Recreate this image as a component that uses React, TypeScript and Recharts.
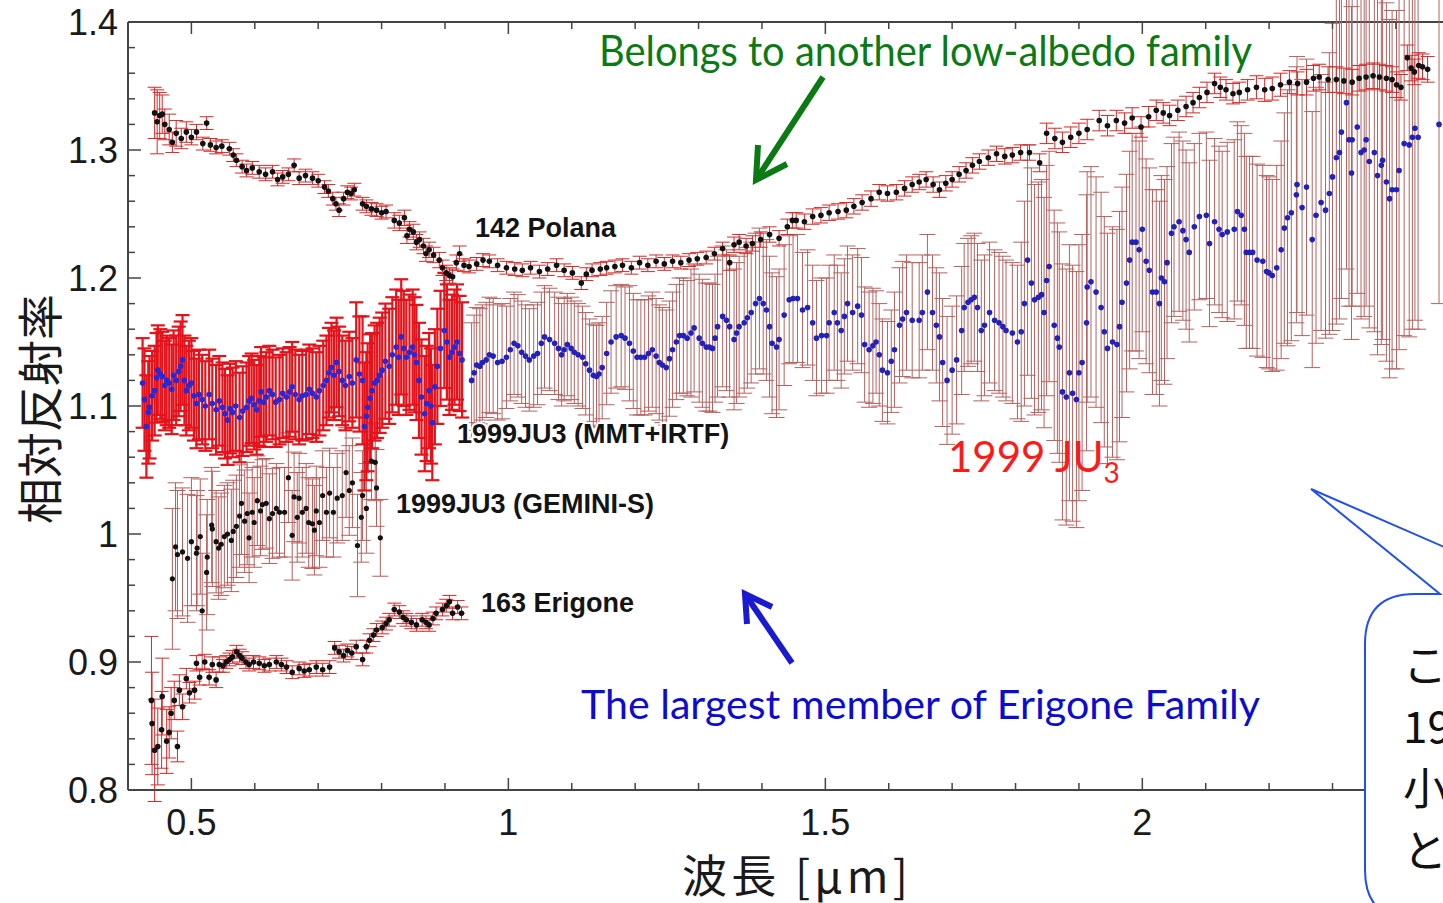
import React from "react";
import {
  ScatterChart,
  Scatter,
  XAxis,
  YAxis,
  ErrorBar,
  ReferenceLine,
} from "recharts";

// [wavelength (µm), relative reflectance, error]
const polana: number[][] = [
  [0.442, 1.329, 0.02], [0.446, 1.322, 0.025], [0.45, 1.327, 0.018], [0.454, 1.328, 0.015],
  [0.458, 1.32, 0.012], [0.465, 1.316, 0.012], [0.47, 1.306, 0.008], [0.476, 1.313, 0.01],
  [0.484, 1.309, 0.008], [0.492, 1.314, 0.008], [0.5, 1.31, 0.006], [0.508, 1.314, 0.006],
  [0.518, 1.305, 0.005], [0.524, 1.321, 0.005], [0.53, 1.304, 0.005], [0.539, 1.302, 0.005],
  [0.548, 1.303, 0.005], [0.56, 1.301, 0.005], [0.566, 1.296, 0.005], [0.571, 1.292, 0.005],
  [0.58, 1.287, 0.005], [0.587, 1.284, 0.005], [0.596, 1.286, 0.005], [0.607, 1.283, 0.005],
  [0.617, 1.281, 0.005], [0.628, 1.283, 0.005], [0.636, 1.277, 0.005], [0.644, 1.279, 0.005],
  [0.653, 1.281, 0.005], [0.662, 1.288, 0.005], [0.67, 1.278, 0.005], [0.68, 1.28, 0.005],
  [0.691, 1.278, 0.005], [0.7, 1.276, 0.005], [0.71, 1.271, 0.005], [0.716, 1.268, 0.005],
  [0.723, 1.262, 0.005], [0.728, 1.258, 0.005], [0.733, 1.253, 0.005], [0.74, 1.262, 0.005],
  [0.746, 1.267, 0.005], [0.752, 1.266, 0.005], [0.757, 1.269, 0.005], [0.77, 1.258, 0.005],
  [0.776, 1.256, 0.005], [0.784, 1.254, 0.005], [0.792, 1.253, 0.005], [0.8, 1.251, 0.005],
  [0.807, 1.252, 0.005], [0.82, 1.245, 0.006], [0.828, 1.243, 0.006], [0.836, 1.247, 0.006],
  [0.84, 1.233, 0.006], [0.844, 1.238, 0.006], [0.85, 1.236, 0.006], [0.855, 1.228, 0.006],
  [0.86, 1.23, 0.006], [0.866, 1.225, 0.006], [0.87, 1.219, 0.006], [0.875, 1.222, 0.006],
  [0.882, 1.218, 0.006], [0.891, 1.214, 0.006], [0.896, 1.208, 0.006], [0.902, 1.204, 0.006],
  [0.907, 1.202, 0.006], [0.912, 1.201, 0.006], [0.918, 1.212, 0.006], [0.923, 1.219, 0.006],
  [0.93, 1.21, 0.005], [0.938, 1.209, 0.005], [0.95, 1.211, 0.005], [0.96, 1.214, 0.005],
  [0.97, 1.213, 0.005], [0.983, 1.21, 0.005], [0.997, 1.208, 0.005], [1.01, 1.207, 0.005],
  [1.022, 1.206, 0.005], [1.035, 1.208, 0.005], [1.049, 1.205, 0.005], [1.062, 1.207, 0.005],
  [1.076, 1.21, 0.005], [1.088, 1.206, 0.005], [1.101, 1.204, 0.005], [1.115, 1.196, 0.005],
  [1.123, 1.203, 0.005], [1.132, 1.206, 0.005], [1.145, 1.207, 0.005], [1.155, 1.208, 0.005],
  [1.168, 1.209, 0.005], [1.18, 1.21, 0.005], [1.194, 1.208, 0.005], [1.207, 1.212, 0.005],
  [1.22, 1.21, 0.005], [1.233, 1.213, 0.005], [1.246, 1.211, 0.005], [1.259, 1.213, 0.005],
  [1.272, 1.212, 0.005], [1.285, 1.214, 0.005], [1.298, 1.215, 0.005], [1.312, 1.216, 0.005],
  [1.325, 1.219, 0.005], [1.338, 1.223, 0.005], [1.349, 1.212, 0.006], [1.356, 1.226, 0.006],
  [1.364, 1.228, 0.006], [1.375, 1.225, 0.006], [1.385, 1.227, 0.006], [1.398, 1.23, 0.006],
  [1.412, 1.234, 0.006], [1.427, 1.231, 0.006], [1.44, 1.24, 0.006], [1.448, 1.245, 0.006],
  [1.454, 1.245, 0.006], [1.467, 1.244, 0.006], [1.48, 1.248, 0.006], [1.493, 1.249, 0.006],
  [1.506, 1.251, 0.006], [1.52, 1.252, 0.006], [1.533, 1.253, 0.006], [1.545, 1.256, 0.006],
  [1.558, 1.259, 0.006], [1.572, 1.262, 0.006], [1.585, 1.267, 0.006], [1.598, 1.266, 0.006],
  [1.612, 1.267, 0.006], [1.625, 1.27, 0.006], [1.637, 1.273, 0.006], [1.648, 1.275, 0.006],
  [1.659, 1.277, 0.006], [1.67, 1.273, 0.006], [1.68, 1.269, 0.006], [1.69, 1.274, 0.006],
  [1.7, 1.277, 0.006], [1.711, 1.281, 0.006], [1.722, 1.284, 0.006], [1.732, 1.288, 0.006],
  [1.743, 1.291, 0.006], [1.757, 1.294, 0.006], [1.77, 1.297, 0.006], [1.783, 1.295, 0.006],
  [1.795, 1.296, 0.006], [1.808, 1.298, 0.006], [1.822, 1.298, 0.006], [1.838, 1.29, 0.007],
  [1.849, 1.313, 0.008], [1.862, 1.309, 0.008], [1.874, 1.306, 0.008], [1.887, 1.31, 0.008],
  [1.9, 1.313, 0.008], [1.913, 1.316, 0.008], [1.932, 1.323, 0.008], [1.945, 1.319, 0.008],
  [1.959, 1.323, 0.008], [1.972, 1.321, 0.008], [1.984, 1.325, 0.008], [1.998, 1.318, 0.008],
  [2.01, 1.326, 0.008], [2.022, 1.331, 0.008], [2.033, 1.329, 0.008], [2.043, 1.327, 0.008],
  [2.056, 1.331, 0.008], [2.069, 1.334, 0.008], [2.08, 1.337, 0.008], [2.09, 1.341, 0.008],
  [2.102, 1.345, 0.008], [2.114, 1.352, 0.008], [2.123, 1.349, 0.008], [2.132, 1.347, 0.008],
  [2.143, 1.344, 0.008], [2.153, 1.345, 0.008], [2.166, 1.347, 0.008], [2.18, 1.349, 0.009],
  [2.193, 1.347, 0.009], [2.205, 1.348, 0.009], [2.218, 1.351, 0.009], [2.232, 1.353, 0.009],
  [2.245, 1.352, 0.009], [2.259, 1.353, 0.01], [2.27, 1.356, 0.01], [2.279, 1.357, 0.01],
  [2.293, 1.355, 0.01], [2.306, 1.355, 0.01], [2.318, 1.354, 0.01], [2.331, 1.353, 0.01],
  [2.342, 1.356, 0.01], [2.353, 1.357, 0.01], [2.364, 1.358, 0.01], [2.374, 1.357, 0.01],
  [2.385, 1.356, 0.01], [2.394, 1.355, 0.01], [2.401, 1.351, 0.01], [2.408, 1.349, 0.01],
  [2.418, 1.372, 0.01], [2.424, 1.364, 0.01], [2.429, 1.361, 0.01], [2.436, 1.366, 0.01],
  [2.442, 1.365, 0.01], [2.45, 1.363, 0.01],
];

const ju3Mmt: number[][] = [
  [0.423, 1.118, 0.035], [0.426, 1.105, 0.04], [0.429, 1.084, 0.04], [0.432, 1.095, 0.04],
  [0.434, 1.099, 0.04], [0.438, 1.108, 0.035], [0.442, 1.112, 0.035], [0.445, 1.122, 0.035],
  [0.447, 1.128, 0.035], [0.451, 1.125, 0.035], [0.454, 1.123, 0.035], [0.458, 1.116, 0.035],
  [0.461, 1.12, 0.035], [0.465, 1.118, 0.035], [0.469, 1.113, 0.035], [0.472, 1.124, 0.035],
  [0.476, 1.12, 0.035], [0.48, 1.127, 0.035], [0.483, 1.131, 0.035], [0.486, 1.136, 0.035],
  [0.489, 1.12, 0.035], [0.492, 1.112, 0.035], [0.496, 1.116, 0.035], [0.5, 1.118, 0.035],
  [0.504, 1.108, 0.035], [0.508, 1.102, 0.035], [0.512, 1.109, 0.035], [0.517, 1.105, 0.035],
  [0.522, 1.1, 0.035], [0.528, 1.109, 0.035], [0.533, 1.102, 0.035], [0.539, 1.097, 0.035],
  [0.544, 1.104, 0.035], [0.549, 1.099, 0.035], [0.553, 1.094, 0.035], [0.557, 1.089, 0.035],
  [0.561, 1.098, 0.035], [0.565, 1.095, 0.035], [0.57, 1.1, 0.035], [0.576, 1.091, 0.035],
  [0.581, 1.096, 0.035], [0.587, 1.099, 0.035], [0.591, 1.104, 0.035], [0.595, 1.106, 0.035],
  [0.599, 1.101, 0.035], [0.603, 1.097, 0.035], [0.607, 1.104, 0.035], [0.61, 1.111, 0.035],
  [0.614, 1.103, 0.035], [0.618, 1.107, 0.035], [0.623, 1.112, 0.035], [0.628, 1.109, 0.035],
  [0.633, 1.103, 0.035], [0.639, 1.105, 0.035], [0.644, 1.11, 0.035], [0.65, 1.107, 0.035],
  [0.655, 1.111, 0.035], [0.659, 1.115, 0.035], [0.664, 1.109, 0.035], [0.67, 1.105, 0.035],
  [0.675, 1.108, 0.035], [0.681, 1.109, 0.035], [0.686, 1.113, 0.035], [0.691, 1.11, 0.035],
  [0.697, 1.107, 0.035], [0.702, 1.112, 0.035], [0.708, 1.116, 0.035], [0.713, 1.12, 0.035],
  [0.717, 1.126, 0.035], [0.721, 1.13, 0.035], [0.725, 1.124, 0.035], [0.729, 1.134, 0.035],
  [0.733, 1.127, 0.035], [0.738, 1.12, 0.035], [0.743, 1.116, 0.035], [0.749, 1.123, 0.035],
  [0.754, 1.118, 0.035], [0.76, 1.136, 0.045], [0.765, 1.125, 0.045], [0.77, 1.12, 0.05],
  [0.773, 1.084, 0.05], [0.776, 1.092, 0.05], [0.778, 1.099, 0.05], [0.782, 1.106, 0.05],
  [0.785, 1.112, 0.045], [0.789, 1.118, 0.045], [0.793, 1.12, 0.045], [0.797, 1.124, 0.045],
  [0.801, 1.128, 0.045], [0.806, 1.135, 0.045], [0.812, 1.131, 0.045], [0.817, 1.14, 0.045],
  [0.823, 1.146, 0.045], [0.827, 1.138, 0.045], [0.831, 1.154, 0.045], [0.835, 1.145, 0.045],
  [0.839, 1.138, 0.045], [0.844, 1.142, 0.045], [0.849, 1.146, 0.045], [0.852, 1.14, 0.045],
  [0.855, 1.134, 0.045], [0.859, 1.12, 0.045], [0.863, 1.107, 0.045], [0.868, 1.094, 0.045],
  [0.871, 1.102, 0.045], [0.875, 1.112, 0.045], [0.878, 1.1, 0.045], [0.88, 1.087, 0.045],
  [0.884, 1.115, 0.045], [0.888, 1.131, 0.045], [0.893, 1.145, 0.045], [0.899, 1.159, 0.045],
  [0.903, 1.15, 0.045], [0.907, 1.138, 0.045], [0.911, 1.142, 0.045], [0.915, 1.146, 0.045],
  [0.919, 1.15, 0.045], [0.923, 1.141, 0.045], [0.927, 1.136, 0.045],
];

const ju3Nir: number[][] = [
  [0.942, 1.12, 0.045], [0.946, 1.126, 0.045], [0.95, 1.132, 0.045], [0.955, 1.131, 0.045],
  [0.959, 1.134, 0.045], [0.965, 1.136, 0.045], [0.97, 1.14, 0.045], [0.976, 1.139, 0.045],
  [0.983, 1.134, 0.045], [0.99, 1.135, 0.045], [0.997, 1.138, 0.04], [1.003, 1.144, 0.04],
  [1.009, 1.149, 0.04], [1.015, 1.147, 0.04], [1.021, 1.142, 0.04], [1.027, 1.139, 0.04],
  [1.033, 1.136, 0.04], [1.04, 1.139, 0.04], [1.046, 1.141, 0.04], [1.052, 1.149, 0.04],
  [1.057, 1.154, 0.04], [1.065, 1.152, 0.04], [1.073, 1.149, 0.04], [1.079, 1.145, 0.04],
  [1.084, 1.14, 0.04], [1.088, 1.144, 0.04], [1.093, 1.148, 0.04], [1.099, 1.145, 0.04],
  [1.104, 1.142, 0.04], [1.11, 1.14, 0.04], [1.117, 1.138, 0.04], [1.122, 1.133, 0.04],
  [1.128, 1.128, 0.04], [1.134, 1.124, 0.04], [1.139, 1.123, 0.04], [1.143, 1.125, 0.04],
  [1.148, 1.13, 0.04], [1.155, 1.141, 0.04], [1.162, 1.15, 0.04], [1.17, 1.154, 0.04],
  [1.178, 1.155, 0.04], [1.184, 1.153, 0.04], [1.191, 1.149, 0.045], [1.197, 1.143, 0.045],
  [1.203, 1.138, 0.045], [1.209, 1.138, 0.045], [1.215, 1.138, 0.045], [1.221, 1.141, 0.045],
  [1.227, 1.144, 0.045], [1.233, 1.139, 0.045], [1.238, 1.134, 0.045], [1.243, 1.132, 0.045],
  [1.249, 1.13, 0.045], [1.254, 1.137, 0.045], [1.259, 1.144, 0.045], [1.265, 1.15, 0.045],
  [1.27, 1.155, 0.045], [1.276, 1.155, 0.045], [1.282, 1.153, 0.045], [1.288, 1.157, 0.05],
  [1.293, 1.161, 0.05], [1.301, 1.153, 0.05], [1.306, 1.149, 0.05], [1.312, 1.146, 0.05],
  [1.317, 1.146, 0.05], [1.322, 1.145, 0.05], [1.326, 1.153, 0.05], [1.33, 1.162, 0.055],
  [1.338, 1.17, 0.055], [1.344, 1.167, 0.055], [1.349, 1.162, 0.055], [1.356, 1.152, 0.055],
  [1.36, 1.157, 0.055], [1.364, 1.162, 0.055], [1.372, 1.165, 0.055], [1.377, 1.169, 0.055],
  [1.383, 1.173, 0.055], [1.39, 1.18, 0.055], [1.396, 1.184, 0.055], [1.402, 1.18, 0.055],
  [1.407, 1.175, 0.055], [1.412, 1.162, 0.055], [1.416, 1.149, 0.055], [1.423, 1.146, 0.055],
  [1.427, 1.152, 0.055], [1.435, 1.171, 0.055], [1.443, 1.183, 0.05], [1.449, 1.184, 0.05],
  [1.456, 1.184, 0.05], [1.464, 1.175, 0.045], [1.472, 1.177, 0.045], [1.48, 1.165, 0.045],
  [1.486, 1.153, 0.045], [1.494, 1.155, 0.045], [1.502, 1.155, 0.045], [1.506, 1.165, 0.045],
  [1.514, 1.173, 0.045], [1.519, 1.165, 0.045], [1.525, 1.159, 0.045], [1.53, 1.17, 0.045],
  [1.535, 1.18, 0.045], [1.543, 1.173, 0.045], [1.551, 1.178, 0.045], [1.557, 1.171, 0.045],
  [1.562, 1.148, 0.045], [1.569, 1.144, 0.045], [1.575, 1.147, 0.045], [1.58, 1.15, 0.04],
  [1.585, 1.14, 0.04], [1.59, 1.128, 0.04], [1.598, 1.126, 0.04], [1.604, 1.135, 0.04],
  [1.609, 1.144, 0.045], [1.617, 1.163, 0.045], [1.622, 1.168, 0.045], [1.628, 1.173, 0.045],
  [1.637, 1.167, 0.045], [1.648, 1.167, 0.045], [1.653, 1.173, 0.045], [1.661, 1.189, 0.045],
  [1.669, 1.173, 0.045], [1.675, 1.163, 0.045], [1.68, 1.154, 0.05], [1.685, 1.134, 0.05],
  [1.692, 1.12, 0.05], [1.7, 1.128, 0.05], [1.707, 1.136, 0.05], [1.715, 1.159, 0.05],
  [1.719, 1.177, 0.05], [1.725, 1.181, 0.05], [1.73, 1.183, 0.05], [1.735, 1.185, 0.05],
  [1.74, 1.177, 0.05], [1.746, 1.159, 0.055], [1.751, 1.163, 0.055], [1.759, 1.173, 0.055],
  [1.767, 1.167, 0.055], [1.774, 1.165, 0.055], [1.78, 1.162, 0.055], [1.785, 1.159, 0.055],
  [1.795, 1.157, 0.055], [1.803, 1.15, 0.06], [1.809, 1.158, 0.07], [1.814, 1.18, 0.08],
  [1.819, 1.214, 0.09], [1.825, 1.196, 0.09], [1.83, 1.183, 0.09], [1.836, 1.185, 0.09],
  [1.841, 1.187, 0.09], [1.845, 1.173, 0.09], [1.849, 1.198, 0.09], [1.853, 1.209, 0.09],
  [1.861, 1.163, 0.09], [1.866, 1.153, 0.09], [1.869, 1.146, 0.09], [1.874, 1.111, 0.1],
  [1.88, 1.107, 0.1], [1.885, 1.126, 0.1], [1.89, 1.11, 0.1], [1.896, 1.105, 0.1],
  [1.9, 1.126, 0.1], [1.905, 1.134, 0.1], [1.912, 1.165, 0.1], [1.913, 1.193, 0.09],
  [1.919, 1.197, 0.09], [1.927, 1.189, 0.09], [1.935, 1.177, 0.09], [1.94, 1.158, 0.09],
  [1.945, 1.145, 0.09], [1.953, 1.15, 0.09], [1.96, 1.148, 0.09], [1.964, 1.162, 0.09],
  [1.968, 1.181, 0.09], [1.975, 1.196, 0.085], [1.98, 1.214, 0.085], [1.984, 1.228, 0.085],
  [1.99, 1.228, 0.085], [1.995, 1.222, 0.085], [2.0, 1.238, 0.08], [2.006, 1.213, 0.08],
  [2.011, 1.206, 0.08], [2.016, 1.189, 0.08], [2.022, 1.189, 0.08], [2.027, 1.18, 0.08],
  [2.03, 1.2, 0.08], [2.035, 1.197, 0.08], [2.039, 1.212, 0.075], [2.046, 1.235, 0.07],
  [2.05, 1.24, 0.07], [2.058, 1.244, 0.07], [2.064, 1.237, 0.07], [2.069, 1.23, 0.07],
  [2.074, 1.22, 0.07], [2.082, 1.24, 0.065], [2.09, 1.248, 0.065], [2.101, 1.249, 0.065],
  [2.106, 1.227, 0.065], [2.114, 1.244, 0.065], [2.121, 1.238, 0.065], [2.126, 1.234, 0.065],
  [2.134, 1.236, 0.07], [2.145, 1.238, 0.07], [2.15, 1.252, 0.07], [2.156, 1.249, 0.07],
  [2.161, 1.238, 0.075], [2.164, 1.22, 0.075], [2.169, 1.22, 0.075], [2.174, 1.22, 0.075],
  [2.181, 1.214, 0.075], [2.19, 1.213, 0.075], [2.196, 1.205, 0.075], [2.2, 1.204, 0.075],
  [2.205, 1.202, 0.075], [2.212, 1.208, 0.08], [2.219, 1.222, 0.085], [2.224, 1.239, 0.09],
  [2.229, 1.247, 0.1], [2.235, 1.251, 0.1], [2.243, 1.265, 0.1], [2.244, 1.273, 0.1],
  [2.252, 1.255, 0.1], [2.259, 1.271, 0.1], [2.268, 1.23, 0.1], [2.274, 1.249, 0.1],
  [2.282, 1.259, 0.1], [2.289, 1.253, 0.1], [2.295, 1.266, 0.11], [2.3, 1.279, 0.12],
  [2.306, 1.294, 0.13], [2.311, 1.298, 0.13], [2.314, 1.314, 0.13], [2.322, 1.337, 0.13],
  [2.326, 1.308, 0.13], [2.33, 1.282, 0.13], [2.331, 1.308, 0.13], [2.339, 1.318, 0.13],
  [2.345, 1.298, 0.13], [2.35, 1.3, 0.13], [2.353, 1.308, 0.13], [2.358, 1.291, 0.13],
  [2.366, 1.298, 0.14], [2.371, 1.28, 0.14], [2.377, 1.288, 0.14], [2.379, 1.292, 0.14],
  [2.385, 1.275, 0.14], [2.39, 1.262, 0.14], [2.394, 1.269, 0.14], [2.401, 1.269, 0.14],
  [2.405, 1.284, 0.14], [2.413, 1.305, 0.15], [2.421, 1.304, 0.15], [2.426, 1.31, 0.15],
  [2.43, 1.317, 0.15], [2.435, 1.31, 0.15], [2.468, 1.32, 0.14],
];

const ju3Gemini: number[][] = [
  [0.47, 0.965, 0.055], [0.475, 0.99, 0.05], [0.478, 0.984, 0.05], [0.486, 0.986, 0.05],
  [0.494, 0.981, 0.05], [0.5, 0.994, 0.05], [0.508, 0.985, 0.045], [0.509, 0.989, 0.045],
  [0.514, 0.998, 0.045], [0.517, 0.94, 0.045], [0.524, 0.97, 0.045], [0.525, 0.982, 0.045],
  [0.532, 1.007, 0.045], [0.533, 1.004, 0.045], [0.539, 0.994, 0.04], [0.543, 0.989, 0.04],
  [0.547, 0.992, 0.04], [0.552, 0.998, 0.04], [0.557, 1.0, 0.04], [0.563, 0.995, 0.04],
  [0.566, 1.002, 0.04], [0.571, 1.006, 0.04], [0.576, 1.014, 0.04], [0.579, 1.024, 0.04],
  [0.584, 1.01, 0.04], [0.588, 1.016, 0.04], [0.591, 0.997, 0.035], [0.596, 1.017, 0.035],
  [0.599, 1.009, 0.035], [0.604, 1.026, 0.035], [0.609, 1.018, 0.035], [0.612, 1.023, 0.035],
  [0.618, 1.024, 0.035], [0.623, 1.012, 0.035], [0.628, 1.016, 0.035], [0.634, 1.02, 0.035],
  [0.639, 1.017, 0.035], [0.647, 1.017, 0.035], [0.653, 1.044, 0.035], [0.659, 0.999, 0.035],
  [0.662, 1.029, 0.035], [0.667, 1.013, 0.035], [0.67, 1.028, 0.035], [0.675, 1.017, 0.035],
  [0.681, 1.02, 0.035], [0.685, 1.009, 0.035], [0.691, 1.008, 0.035], [0.694, 1.003, 0.035],
  [0.697, 1.018, 0.035], [0.702, 1.009, 0.035], [0.707, 1.03, 0.035], [0.713, 1.017, 0.035],
  [0.718, 1.032, 0.035], [0.724, 1.017, 0.035], [0.73, 1.028, 0.035], [0.738, 1.03, 0.035],
  [0.744, 1.048, 0.035], [0.749, 1.034, 0.035], [0.754, 1.04, 0.035], [0.762, 0.991, 0.04],
  [0.768, 1.013, 0.035], [0.77, 1.03, 0.035], [0.776, 1.02, 0.035], [0.784, 1.057, 0.03],
  [0.79, 1.056, 0.03], [0.792, 1.036, 0.03], [0.798, 0.997, 0.03],
];

const erigone: number[][] = [
  [0.437, 0.87, 0.05], [0.438, 0.852, 0.04], [0.442, 0.831, 0.04], [0.447, 0.834, 0.03],
  [0.453, 0.847, 0.03], [0.454, 0.873, 0.03], [0.461, 0.838, 0.025], [0.465, 0.845, 0.02],
  [0.468, 0.86, 0.02], [0.473, 0.87, 0.015], [0.478, 0.834, 0.012], [0.481, 0.878, 0.012],
  [0.486, 0.865, 0.01], [0.492, 0.887, 0.008], [0.497, 0.876, 0.008], [0.505, 0.878, 0.007],
  [0.508, 0.899, 0.006], [0.513, 0.888, 0.006], [0.521, 0.9, 0.006], [0.528, 0.888, 0.006],
  [0.533, 0.898, 0.006], [0.539, 0.886, 0.006], [0.544, 0.898, 0.006], [0.55, 0.897, 0.005],
  [0.555, 0.9, 0.005], [0.56, 0.902, 0.005], [0.565, 0.904, 0.005], [0.571, 0.908, 0.005],
  [0.576, 0.905, 0.005], [0.58, 0.903, 0.005], [0.586, 0.9, 0.005], [0.591, 0.898, 0.005],
  [0.598, 0.9, 0.005], [0.607, 0.899, 0.005], [0.615, 0.897, 0.005], [0.623, 0.898, 0.005],
  [0.634, 0.9, 0.005], [0.642, 0.898, 0.005], [0.65, 0.896, 0.005], [0.659, 0.892, 0.005],
  [0.67, 0.895, 0.005], [0.678, 0.893, 0.005], [0.686, 0.894, 0.005], [0.697, 0.896, 0.005],
  [0.707, 0.894, 0.005], [0.718, 0.896, 0.005], [0.726, 0.911, 0.005], [0.733, 0.908, 0.005],
  [0.74, 0.905, 0.005], [0.746, 0.909, 0.005], [0.753, 0.907, 0.005], [0.76, 0.912, 0.005],
  [0.77, 0.902, 0.005], [0.776, 0.912, 0.005], [0.781, 0.917, 0.005], [0.787, 0.921, 0.005],
  [0.792, 0.925, 0.005], [0.801, 0.927, 0.005], [0.807, 0.93, 0.005], [0.812, 0.933, 0.005],
  [0.82, 0.941, 0.005], [0.828, 0.939, 0.005], [0.834, 0.935, 0.005], [0.839, 0.933, 0.005],
  [0.847, 0.931, 0.005], [0.855, 0.929, 0.005], [0.864, 0.933, 0.005], [0.87, 0.931, 0.005],
  [0.875, 0.929, 0.005], [0.881, 0.934, 0.005], [0.886, 0.938, 0.005], [0.896, 0.941, 0.005],
  [0.902, 0.944, 0.005], [0.907, 0.947, 0.005], [0.912, 0.938, 0.005], [0.92, 0.943, 0.005],
  [0.926, 0.938, 0.005],
];

const xTicks = [
  0.5, 0.6, 0.7, 0.8, 0.9, 1, 1.1, 1.2, 1.3, 1.4, 1.5, 1.6, 1.7, 1.8, 1.9, 2, 2.1, 2.2, 2.3, 2.4, 2.5,
];
const xLabelTicks = [0.5, 1, 1.5, 2];
const yTicks = [
  0.8, 0.82, 0.84, 0.86, 0.88, 0.9, 0.92, 0.94, 0.96, 0.98, 1, 1.02, 1.04, 1.06, 1.08, 1.1,
  1.12, 1.14, 1.16, 1.18, 1.2, 1.22, 1.24, 1.26, 1.28, 1.3, 1.32, 1.34, 1.36, 1.38, 1.4,
];
const yLabelTicks = [0.8, 0.9, 1, 1.1, 1.2, 1.3, 1.4];

const PLOT_TOP = 22;
const PLOT_BOTTOM = 790;
const PLOT_LEFT = 128;
const AXIS = "#444";
const TICK_FONT = "'Liberation Sans', Arial, Helvetica, sans-serif";
const JP_FONT = "'Noto Sans CJK JP', sans-serif";

const toPoints = (rows: number[][]) => rows.map(([x, y, e]) => ({ x, y, e }));

const dot = (fill: string, r = 2.6) => (p: any) =>
  <circle cx={p.cx} cy={p.cy} r={r} fill={fill} />;

function XTick(props: any) {
  const { x, payload } = props;
  const v = payload.value;
  const major = xLabelTicks.includes(v);
  const len = major ? 12 : 7;
  return (
    <g>
      <line x1={x} x2={x} y1={PLOT_BOTTOM} y2={PLOT_BOTTOM - len} stroke={AXIS} strokeWidth={1.5} />
      <line x1={x} x2={x} y1={PLOT_TOP} y2={PLOT_TOP + len} stroke={AXIS} strokeWidth={1.5} />
      {major && (
        <text x={x} y={PLOT_BOTTOM + 45} textAnchor="middle" fontSize={36} fontFamily={TICK_FONT} fill="#1a1a1a">
          {String(v)}
        </text>
      )}
    </g>
  );
}

function YTick(props: any) {
  const { y, payload } = props;
  const v = payload.value;
  const major = yLabelTicks.includes(v);
  const len = major ? 13 : 7;
  return (
    <g>
      <line x1={PLOT_LEFT} x2={PLOT_LEFT + len} y1={y} y2={y} stroke={AXIS} strokeWidth={1.5} />
      {major && (
        <text x={118} y={y + 13} textAnchor="end" fontSize={36} fontFamily={TICK_FONT} fill="#1a1a1a">
          {String(v)}
        </text>
      )}
    </g>
  );
}

const labelStyle = {
  fontFamily: TICK_FONT,
  fontWeight: 700,
  fontSize: 27,
  fill: "#141414",
  stroke: "#fff",
  strokeWidth: 4,
  paintOrder: "stroke" as const,
};

function Overlay() {
  return (
    <svg width={1443} height={903} style={{ position: "absolute", left: 0, top: 0, pointerEvents: "none" }}>
      {/* axis titles */}
      <text
        transform="translate(37,409) rotate(-90)"
        textAnchor="middle"
        dominantBaseline="central"
        fontSize={46}
        fontFamily={JP_FONT}
        fill="#1a1a1a"
      >
        相対反射率
      </text>
      <text x={682} y={893} fontSize={45} fontFamily={JP_FONT} fill="#1a1a1a" textLength={226}>
        波長 [μm]
      </text>

      {/* series labels */}
      <text x={475} y={237} style={labelStyle}>142 Polana</text>
      <text x={457} y={443} style={labelStyle}>1999JU3 (MMT+IRTF)</text>
      <text x={396} y={513} style={labelStyle}>1999JU3 (GEMINI-S)</text>
      <text x={481} y={612} style={labelStyle}>163 Erigone</text>

      {/* annotations */}
      <text x={599} y={66} fontSize={42} fontFamily="Lato, sans-serif" fill="#0b7a14" textLength={653} lengthAdjust="spacingAndGlyphs">
        Belongs to another low-albedo family
      </text>
      <line x1={823} y1={77} x2={758} y2={177} stroke="#0b7a14" strokeWidth={6} />
      <path d="M 758 145 L 756 180 L 787 164" fill="none" stroke="#0b7a14" strokeWidth={6} strokeLinejoin="miter" />

      <text x={581} y={719} fontSize={41} fontFamily="Lato, sans-serif" fill="#0c0cd0" textLength={679} lengthAdjust="spacingAndGlyphs">
        The largest member of Erigone Family
      </text>
      <line x1={792} y1={663} x2={747} y2={597} stroke="#1a1ad0" strokeWidth={6} />
      <path d="M 747 624 L 745 594 L 772 607" fill="none" stroke="#1a1ad0" strokeWidth={6} strokeLinejoin="miter" />

      <text x={948} y={472} fontSize={42} fontFamily="Lato, sans-serif" fill="#ff1a1a">
        1999 JU<tspan fontSize={28} dy={11}>3</tspan>
      </text>

      {/* callout */}
      <path
        d="M 1415 594 L 1440 594 L 1311 489 L 1552 594 L 1700 594 L 1700 920 L 1415 920 Q 1365 920 1365 870 L 1365 644 Q 1365 594 1415 594 Z"
        fill="#fff"
        stroke="#2050f0"
        strokeWidth={2}
      />
      <g fontSize={44} fontFamily={JP_FONT} fill="#111">
        <text x={1403} y={682}>この天体は</text>
        <text x={1403} y={743}>1999 JU3より</text>
        <text x={1403} y={805}>小さいが</text>
        <text x={1403} y={867}>とてもよく似ている</text>
      </g>
    </svg>
  );
}

export default function App() {
  return (
    <div
      style={{
        position: "fixed",
        left: 0,
        top: 0,
        width: 1443,
        height: 903,
        overflow: "hidden",
        background: "#fff",
      }}
    >
      <ScatterChart width={1520} height={903} margin={{ top: 22, right: 29, bottom: 0, left: 0 }}>
        <XAxis
          type="number"
          dataKey="x"
          domain={[0.4, 2.55]}
          allowDataOverflow
          ticks={xTicks}
          interval={0}
          height={113}
          tickLine={false}
          axisLine={{ stroke: AXIS, strokeWidth: 2 }}
          tick={<XTick />}
        />
        <YAxis
          type="number"
          dataKey="y"
          domain={[0.8, 1.4]}
          allowDataOverflow
          ticks={yTicks}
          interval={0}
          width={128}
          tickLine={false}
          axisLine={{ stroke: AXIS, strokeWidth: 2 }}
          tick={<YTick />}
        />
        <ReferenceLine y={1.4} stroke={AXIS} strokeWidth={2} />

        <Scatter data={toPoints(ju3Nir)} isAnimationActive={false} shape={dot("#2222b8", 2.8)}>
          <ErrorBar dataKey="e" direction="y" width={8} stroke="#b4625f" strokeWidth={1} isAnimationActive={false} />
        </Scatter>
        <Scatter data={toPoints(ju3Gemini)} isAnimationActive={false} shape={dot("#111")}>
          <ErrorBar dataKey="e" direction="y" width={8} stroke="#b75e5b" strokeWidth={1} isAnimationActive={false} />
        </Scatter>
        <Scatter data={toPoints(ju3Mmt)} isAnimationActive={false} shape={dot("#2828d8", 2.8)}>
          <ErrorBar dataKey="e" direction="y" width={7} stroke="#e4121a" strokeWidth={2.2} isAnimationActive={false} />
        </Scatter>
        <Scatter data={toPoints(polana)} isAnimationActive={false} shape={dot("#111", 2.8)}>
          <ErrorBar dataKey="e" direction="y" width={7} stroke="#d42a2a" strokeWidth={1} isAnimationActive={false} />
        </Scatter>
        <Scatter data={toPoints(erigone)} isAnimationActive={false} shape={dot("#111", 2.8)}>
          <ErrorBar dataKey="e" direction="y" width={7} stroke="#d42a2a" strokeWidth={1} isAnimationActive={false} />
        </Scatter>
      </ScatterChart>
      <Overlay />
    </div>
  );
}
